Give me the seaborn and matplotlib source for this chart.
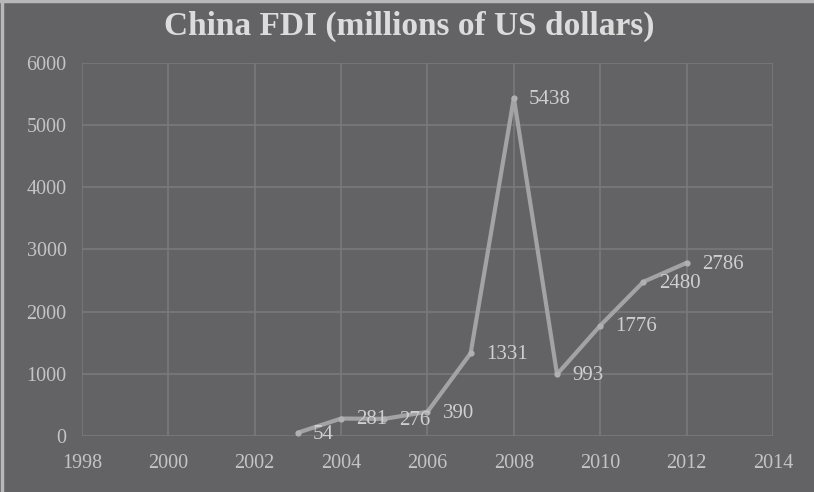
import matplotlib
matplotlib.use("Agg")
import matplotlib.pyplot as plt
import seaborn as sns
import pandas as pd

years = [2003, 2004, 2005, 2006, 2007, 2008, 2009, 2010, 2011, 2012]
fdi = [54, 281, 276, 390, 1331, 5438, 993, 1776, 2480, 2786]
x_ticks = [1998, 2000, 2002, 2004, 2006, 2008, 2010, 2012, 2014]
y_ticks = [0, 1000, 2000, 3000, 4000, 5000, 6000]
title = "China FDI (millions of US dollars)"

BG = "#636365"
GRID = "#7b7b7d"
LINE = "#a3a3a5"
TXT = "#cfcfcf"

sns.set_theme(style="white")
plt.rcParams["font.family"] = ["Liberation Serif", "DejaVu Serif"]

df = pd.DataFrame({"year": years, "fdi": fdi})

fig = plt.figure(figsize=(8.14, 4.92), dpi=100, facecolor=BG)
ax = fig.add_axes([0.1007, 0.1138, 0.8489, 0.7582])
ax.set_facecolor(BG)

sns.lineplot(data=df, x="year", y="fdi", ax=ax, color=LINE, linewidth=3.0,
             marker="o", markersize=4.5, markeredgewidth=0, markerfacecolor="#b0b0b2",
             zorder=3)

for xv, yv in zip(years, fdi):
    ax.annotate(str(yv), (xv, yv), xytext=(11, -1), textcoords="offset points",
                ha="left", va="center", fontsize=15, color=TXT, zorder=4)

ax.set_xlim(1998, 2014)
ax.set_ylim(0, 6000)
ax.set_xticks(x_ticks)
ax.set_yticks(y_ticks)
ax.set_xticklabels([str(t) for t in x_ticks])
ax.set_yticklabels([str(t) for t in y_ticks])
ax.grid(True, color=GRID, linewidth=1.1)
ax.set_axisbelow(True)
for s in ax.spines.values():
    s.set_visible(False)
ax.tick_params(axis="both", length=0, labelsize=14.5, labelcolor="#c4c4c6")
ax.tick_params(axis="x", pad=13)
ax.tick_params(axis="y", pad=11)
ax.set_xlabel("")
ax.set_ylabel("")

fig.text(0.503, 0.947, title, ha="center", va="center", fontsize=24,
         fontweight="bold", color="#dcdcdc")

# light frame on top and left edges
fig.add_artist(plt.Line2D([0, 1], [0.998, 0.998], transform=fig.transFigure,
                          color="#b8b8ba", linewidth=2.5))
fig.add_artist(plt.Line2D([0.002, 0.002], [0, 1], transform=fig.transFigure,
                          color="#b8b8ba", linewidth=2.5))

fig.savefig("out.png", dpi=100, facecolor=BG)
